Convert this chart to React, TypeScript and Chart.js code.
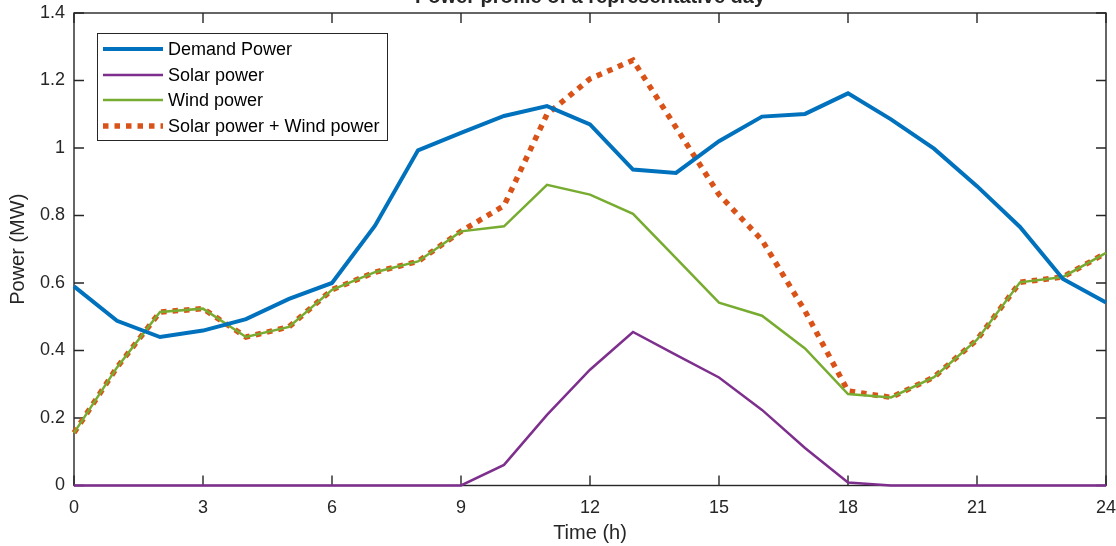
import React, { useEffect, useRef } from "react";
import { Chart, registerables } from "chart.js";

Chart.register(...registerables);

const hours = [0, 1, 2, 3, 4, 5, 6, 7, 8, 9, 10, 11, 12, 13, 14, 15, 16, 17, 18, 19, 20, 21, 22, 23, 24];
const demandPower = [0.59, 0.488, 0.44, 0.459, 0.493, 0.553, 0.6, 0.77, 0.993, 1.045, 1.095, 1.124, 1.07, 0.936, 0.926, 1.02, 1.093, 1.101, 1.162, 1.085, 0.998, 0.887, 0.766, 0.612, 0.542];
const solarPower = [0, 0, 0, 0, 0, 0, 0, 0, 0, 0, 0.061, 0.209, 0.343, 0.455, 0.387, 0.32, 0.224, 0.111, 0.009, 0, 0, 0, 0, 0, 0];
const windPower = [0.156, 0.35, 0.514, 0.524, 0.44, 0.47, 0.58, 0.632, 0.664, 0.753, 0.768, 0.891, 0.862, 0.805, 0.674, 0.542, 0.503, 0.406, 0.271, 0.261, 0.321, 0.432, 0.602, 0.618, 0.689];
const solarPlusWind = [0.156, 0.35, 0.514, 0.524, 0.44, 0.47, 0.58, 0.632, 0.664, 0.753, 0.829, 1.1, 1.205, 1.26, 1.061, 0.862, 0.727, 0.517, 0.28, 0.261, 0.321, 0.432, 0.602, 0.618, 0.689];
const xTicks = [0, 3, 6, 9, 12, 15, 18, 21, 24];
const yTicks = [0, 0.2, 0.4, 0.6, 0.8, 1, 1.2, 1.4];
const seriesNames = ["Demand Power", "Solar power", "Wind power", "Solar power + Wind power"];
const titleText = "Power profile of a representative day";
const xTitle = "Time (h)";
const yTitle = "Power (MW)";

const AXIS = "#262626";
const FONT = "'Liberation Sans', Arial, Helvetica, sans-serif";

const styles = [
  { color: "#0072BD", width: 4, dash: [] as number[] },
  { color: "#7E2F8E", width: 2.5, dash: [] as number[] },
  { color: "#77AC30", width: 2.5, dash: [] as number[] },
  { color: "#D95319", width: 5.5, dash: [5.5, 6] },
];

export default function App() {
  const ref = useRef<HTMLCanvasElement | null>(null);
  useEffect(() => {
    document.body.style.margin = "0";
    const canvas = ref.current!;
    const toPts = (arr: number[]) => hours.map((h, i) => ({ x: h, y: arr[i] }));
    const series = [demandPower, solarPower, windPower, solarPlusWind];

    const axesPlugin = {
      id: "matlabAxes",
      beforeDatasetsDraw(chart: any) {
        const ctx = chart.ctx;
        const a = chart.chartArea;
        const xs = chart.scales.x;
        const ys = chart.scales.y;
        ctx.save();
        ctx.strokeStyle = AXIS;
        ctx.lineWidth = 1.4;
        ctx.strokeRect(a.left, a.top, a.right - a.left, a.bottom - a.top);
        const tl = 10;
        ctx.beginPath();
        xTicks.forEach((t) => {
          const px = xs.getPixelForValue(t);
          ctx.moveTo(px, a.bottom);
          ctx.lineTo(px, a.bottom - tl);
          ctx.moveTo(px, a.top);
          ctx.lineTo(px, a.top + tl);
        });
        yTicks.forEach((t) => {
          const py = ys.getPixelForValue(t);
          ctx.moveTo(a.left, py);
          ctx.lineTo(a.left + tl, py);
          ctx.moveTo(a.right, py);
          ctx.lineTo(a.right - tl, py);
        });
        ctx.stroke();
        ctx.fillStyle = AXIS;
        ctx.font = `18px ${FONT}`;
        ctx.textAlign = "center";
        ctx.textBaseline = "middle";
        xTicks.forEach((t) => {
          ctx.fillText(String(t), xs.getPixelForValue(t), a.bottom + 22.5);
        });
        ctx.textAlign = "right";
        yTicks.forEach((t) => {
          ctx.fillText(String(Math.round(t * 10) / 10), a.left - 9, ys.getPixelForValue(t));
        });
        ctx.font = `20px ${FONT}`;
        ctx.textAlign = "center";
        ctx.fillText(xTitle, (a.left + a.right) / 2, a.bottom + 48);
        ctx.save();
        ctx.translate(18, (a.top + a.bottom) / 2);
        ctx.rotate(-Math.PI / 2);
        ctx.fillText(yTitle, 0, 0);
        ctx.restore();
        ctx.font = `bold 20px ${FONT}`;
        ctx.textBaseline = "alphabetic";
        ctx.fillText(titleText, (a.left + a.right) / 2, 3);
        ctx.restore();
      },
      afterDatasetsDraw(chart: any) {
        const ctx = chart.ctx;
        ctx.save();
        const bx = 97, by = 33, bw = 290, bh = 107;
        ctx.fillStyle = "#ffffff";
        ctx.fillRect(bx, by, bw, bh);
        ctx.strokeStyle = AXIS;
        ctx.lineWidth = 1;
        ctx.strokeRect(bx + 0.5, by + 0.5, bw, bh);
        const rows = [49, 75, 100, 126];
        seriesNames.forEach((name, i) => {
          const s = styles[i];
          ctx.beginPath();
          ctx.strokeStyle = s.color;
          ctx.lineWidth = s.width;
          ctx.setLineDash(s.dash);
          ctx.lineCap = "butt";
          ctx.moveTo(103, rows[i]);
          ctx.lineTo(163, rows[i]);
          ctx.stroke();
          ctx.setLineDash([]);
          ctx.fillStyle = "#000000";
          ctx.font = `18px ${FONT}`;
          ctx.textAlign = "left";
          ctx.textBaseline = "middle";
          ctx.fillText(name, 168, rows[i] + 1);
        });
        ctx.restore();
      },
    };

    const chart = new Chart(canvas, {
      type: "line",
      data: {
        datasets: series.map((arr, i) => ({
          label: seriesNames[i],
          data: toPts(arr),
          borderColor: styles[i].color,
          backgroundColor: styles[i].color,
          borderWidth: styles[i].width,
          borderDash: styles[i].dash,
          borderCapStyle: "butt" as const,
          borderJoinStyle: "miter" as const,
          pointRadius: 0,
          tension: 0,
          fill: false,
          clip: false as any,
        })),
      },
      options: {
        responsive: false,
        animation: false,
        events: [],
        layout: { padding: { left: 74, right: 10, top: 13, bottom: 60.5 } },
        plugins: { legend: { display: false }, title: { display: false }, tooltip: { enabled: false } },
        scales: {
          x: { type: "linear", min: 0, max: 24, display: false },
          y: { type: "linear", min: 0, max: 1.4, display: false },
        },
      },
      plugins: [axesPlugin],
    });
    return () => chart.destroy();
  }, []);
  return (
    <div style={{ width: 1116, height: 546, background: "#ffffff" }}>
      <canvas ref={ref} width={1116} height={546} style={{ display: "block" }} />
    </div>
  );
}
